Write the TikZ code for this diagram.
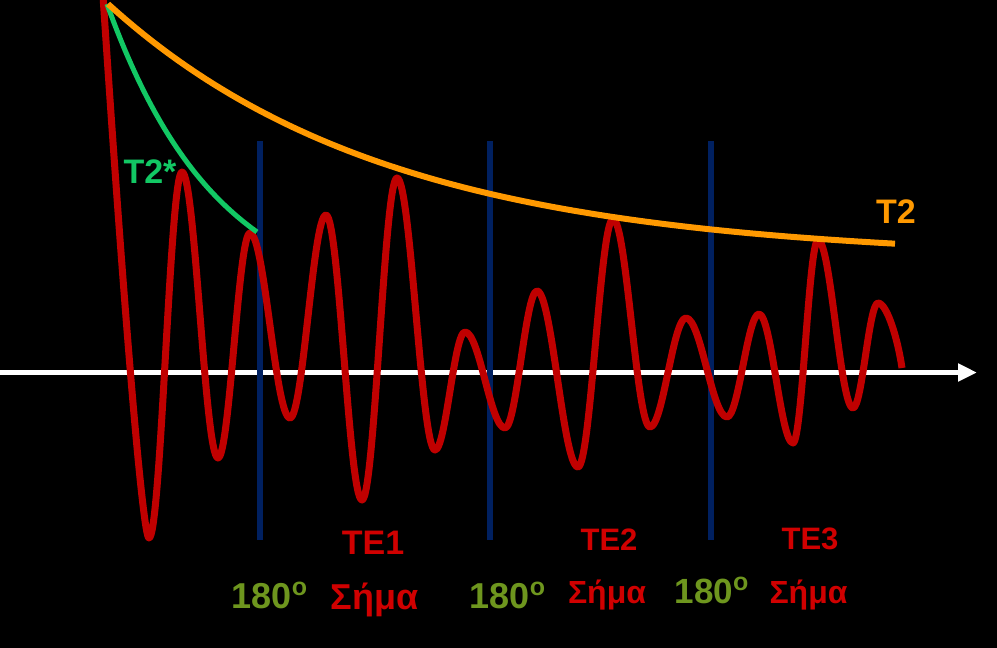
\documentclass[tikz,border=0pt]{standalone}
\usepackage{fontspec}
\setmainfont{Liberation Sans}
\usetikzlibrary{arrows.meta}
\definecolor{sigred}{HTML}{C00000}
\definecolor{txtred}{HTML}{D00000}
\definecolor{tworange}{HTML}{FF9900}
\definecolor{twgreen}{RGB}{18,200,100}
\definecolor{olive}{RGB}{110,150,30}
\definecolor{navyline}{RGB}{0,32,96}
\tikzset{
  lbl/.style={inner sep=0pt, anchor=base, font=\bfseries\fontsize{#1}{#1}\selectfont},
  lbl/.default=36,
  pulse/.style={navyline, line width=5.5pt},
  deg/.style={lbl=36, text=olive},
}
\newcommand{\degsign}{\raisebox{13pt}{\fontsize{25}{25}\selectfont o}}
\begin{document}
\begin{tikzpicture}[x=1pt,y=-1pt]
\fill[black] (0,0) rectangle (997,648);
\useasboundingbox (0,0) rectangle (997,648);
% axis
\coordinate (ax0) at (0,372.5);
\coordinate (ax1) at (977,372.5);
\draw[white, line width=5pt, -{Triangle[length=19pt,width=17pt]}] (ax0) -- (ax1);
% 180 degree pulses
\foreach \n/\x in {p1/260, p2/490, p3/711}{
  \coordinate (\n t) at (\x,141);
  \coordinate (\n b) at (\x,540);
  \draw[pulse] (\n t) -- (\n b);
}
% signal
\draw[sigred, line width=7pt, line join=round]
 (103,-4) .. controls (125,327) and (143,538) .. (149,538)
 .. controls (161,538) and (170,172) .. (182,172)
 .. controls (195.1,172) and (204.9,458) .. (218,458)
 .. controls (229.6,458) and (238.4,233) .. (250,233)
 .. controls (264.6,233) and (275.4,418) .. (290,418)
 .. controls (303.1,418) and (312.9,215) .. (326,215)
 .. controls (339.1,215) and (348.9,500) .. (362,500)
 .. controls (374.7,500) and (384.3,178) .. (397,178)
 .. controls (410.8,178) and (421.2,450) .. (435,450)
 .. controls (445.9,450) and (454.1,332) .. (465,332)
 .. controls (479.6,332) and (490.4,428) .. (505,428)
 .. controls (516.6,428) and (525.4,291) .. (537,291)
 .. controls (551.9,291) and (563.1,467) .. (578,467)
 .. controls (590.7,467) and (600.3,219) .. (613,219)
 .. controls (626.5,219) and (636.5,427) .. (650,427)
 .. controls (663.1,427) and (672.9,318) .. (686,318)
 .. controls (700.9,318) and (712.1,417) .. (727,417)
 .. controls (738.6,417) and (747.4,314) .. (759,314)
 .. controls (771.4,314) and (780.6,443) .. (793,443)
 .. controls (802.1,443) and (808.9,240) .. (818,240)
 .. controls (830.7,240) and (840.3,408) .. (853,408)
 .. controls (862.1,408) and (868.9,303) .. (878,303)
 .. controls (887,303) and (898,340) .. (902,368);
% T2* decay
\draw[twgreen, line width=5pt] plot[domain=107:257, samples=50]
 (\x, {4+306.3*(1-exp(-(\x-107)/110))});
% T2 decay
\draw[tworange, line width=6pt] plot[domain=108:895, samples=90]
 (\x, {4+255*(1-exp(-(\x-108)/280))});
% labels
\node[lbl=34, text=twgreen] (t2s) at (150,183) {T2*};
\node[lbl=34, text=tworange] (t2) at (896,223) {T2};
\node[lbl=34, text=txtred] (te1) at (373,554) {TE1};
\node[lbl=31, text=txtred] (te2) at (609,550) {TE2};
\node[lbl=31, text=txtred] (te3) at (810,549) {TE3};
\node[deg] (d1) at (269.5,608) {180\degsign};
\node[deg] (d2) at (507.5,608) {180\degsign};
\node[deg, font=\bfseries\fontsize{35}{35}\selectfont] (d3) at (711.5,603) {180\degsign};
\node[lbl=36, text=txtred] (s1) at (374.5,609) {Σήμα};
\node[lbl=32, text=txtred] (s2) at (607,603) {Σήμα};
\node[lbl=32, text=txtred] (s3) at (808.5,603) {Σήμα};
\end{tikzpicture}
\end{document}
